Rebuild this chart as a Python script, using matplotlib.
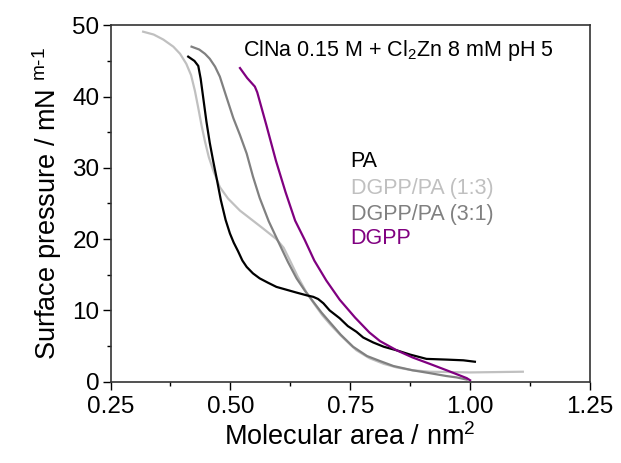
import matplotlib
matplotlib.use('Agg')
import matplotlib.pyplot as plt
from matplotlib.ticker import MultipleLocator

plt.rcParams['font.family'] = ['Liberation Sans', 'DejaVu Sans']
plt.rcParams['mathtext.fontset'] = 'custom'
plt.rcParams['mathtext.rm'] = 'Liberation Sans'

# PA
pa_x = [0.412, 0.425, 0.433, 0.438, 0.443, 0.450, 0.457, 0.464, 0.472, 0.480, 0.490,
        0.499, 0.507, 0.516, 0.525, 0.534, 0.547, 0.561, 0.578, 0.596, 0.617, 0.638,
        0.660, 0.673, 0.683, 0.694, 0.707, 0.728, 0.745, 0.763, 0.777, 0.798, 0.820,
        0.847, 0.875, 0.909, 0.951, 0.986, 1.010]
pa_y = [45.6, 45.0, 44.3, 42.5, 40.0, 36.5, 33.5, 31.0, 28.3, 25.5, 22.7,
        20.8, 19.5, 18.3, 17.0, 16.1, 15.2, 14.5, 13.9, 13.3, 12.9, 12.5,
        12.1, 11.9, 11.6, 11.0, 10.0, 8.9, 7.8, 7.0, 6.2, 5.5, 4.9,
        4.4, 3.8, 3.2, 3.1, 3.0, 2.8]

# DGPP/PA (1:3)
mix13_x = [0.318, 0.340, 0.360, 0.381, 0.395, 0.408, 0.418, 0.426, 0.433, 0.440,
           0.447, 0.455, 0.465, 0.478, 0.495, 0.520, 0.545, 0.568, 0.596, 0.611,
           0.625, 0.640, 0.658, 0.675, 0.692, 0.710, 0.730, 0.750, 0.763, 0.790,
           0.820, 0.847, 0.880, 0.916, 1.000, 1.110]
mix13_y = [49.1, 48.7, 48.0, 47.0, 46.0, 44.6, 43.0, 40.8, 38.4, 35.9,
           33.7, 31.5, 29.5, 27.3, 25.7, 24.0, 22.7, 21.5, 20.0, 18.8,
           16.9, 14.8, 12.6, 10.9, 9.3, 7.9, 6.5, 5.2, 4.4, 3.3,
           2.5, 2.0, 1.6, 1.4, 1.3, 1.4]

# DGPP/PA (3:1)
mix31_x = [0.419, 0.435, 0.447, 0.457, 0.468, 0.478, 0.490, 0.506, 0.520, 0.534,
           0.547, 0.561, 0.580, 0.603, 0.620, 0.638, 0.655, 0.673, 0.690, 0.708,
           0.730, 0.756, 0.785, 0.812, 0.840, 0.880, 0.916, 0.950, 0.972, 0.993]
mix31_y = [47.0, 46.6, 46.0, 45.3, 44.2, 42.8, 40.3, 37.0, 34.6, 32.0,
           28.8, 25.8, 22.5, 19.2, 16.8, 14.5, 12.8, 11.2, 9.7, 8.3,
           6.6, 4.9, 3.6, 2.9, 2.2, 1.6, 1.2, 0.8, 0.6, 0.3]

# DGPP
dgpp_x = [0.520, 0.535, 0.551, 0.556, 0.575, 0.595, 0.615, 0.635, 0.655, 0.675,
          0.700, 0.728, 0.760, 0.790, 0.812, 0.847, 0.880, 0.916, 0.955, 0.993, 1.000]
dgpp_y = [44.0, 42.6, 41.4, 40.6, 36.0, 31.0, 26.6, 22.6, 19.9, 17.0,
          14.2, 11.5, 9.0, 6.9, 5.7, 4.4, 3.4, 2.5, 1.5, 0.5, 0.2]

fig = plt.figure(figsize=(6.21, 4.63), dpi=100)
ax = fig.add_axes([0.178, 0.1756, 0.772, 0.7698])

ax.plot(mix13_x, mix13_y, color='#c0c0c0', lw=1.6)
ax.plot(mix31_x, mix31_y, color='#808080', lw=1.6)
ax.plot(pa_x, pa_y, color='black', lw=1.6)
ax.plot(dgpp_x, dgpp_y, color='#800080', lw=1.6)

ax.set_xlim(0.25, 1.25)
ax.set_ylim(0, 50)
ax.xaxis.set_major_locator(MultipleLocator(0.25))
ax.xaxis.set_minor_locator(MultipleLocator(0.125))
ax.yaxis.set_major_locator(MultipleLocator(10))
ax.yaxis.set_minor_locator(MultipleLocator(5))
ax.xaxis.set_major_formatter(plt.FormatStrFormatter('%.2f'))
ax.tick_params(which='major', direction='out', length=6, width=1, labelsize=17.5)
ax.tick_params(axis='x', which='major', pad=4)
ax.tick_params(axis='y', which='major', pad=2)
ax.tick_params(which='minor', direction='out', length=3, width=1)
for s in ax.spines.values():
    s.set_linewidth(1.2)
    s.set_color('#333333')

ax.set_xlabel('Molecular area / nm$^{2}$', fontsize=19.5, labelpad=4)
ax.set_ylabel('Surface pressure / mN $^{\\mathregular{m}\\text{-}\\mathregular{1}}$',
              fontsize=19.5, labelpad=6)

ax.text(0.526, 46.5, 'ClNa 0.15 M + Cl$_{2}$Zn 8 mM pH 5', fontsize=15.5, va='center')
ax.text(0.751, 30.9, 'PA', fontsize=15.5, color='black', va='center')
ax.text(0.751, 27.1, 'DGPP/PA (1:3)', fontsize=15.5, color='#c0c0c0', va='center')
ax.text(0.751, 23.4, 'DGPP/PA (3:1)', fontsize=15.5, color='#808080', va='center')
ax.text(0.751, 20.1, 'DGPP', fontsize=15.5, color='#800080', va='center')

fig.savefig('out.png', dpi=100)
